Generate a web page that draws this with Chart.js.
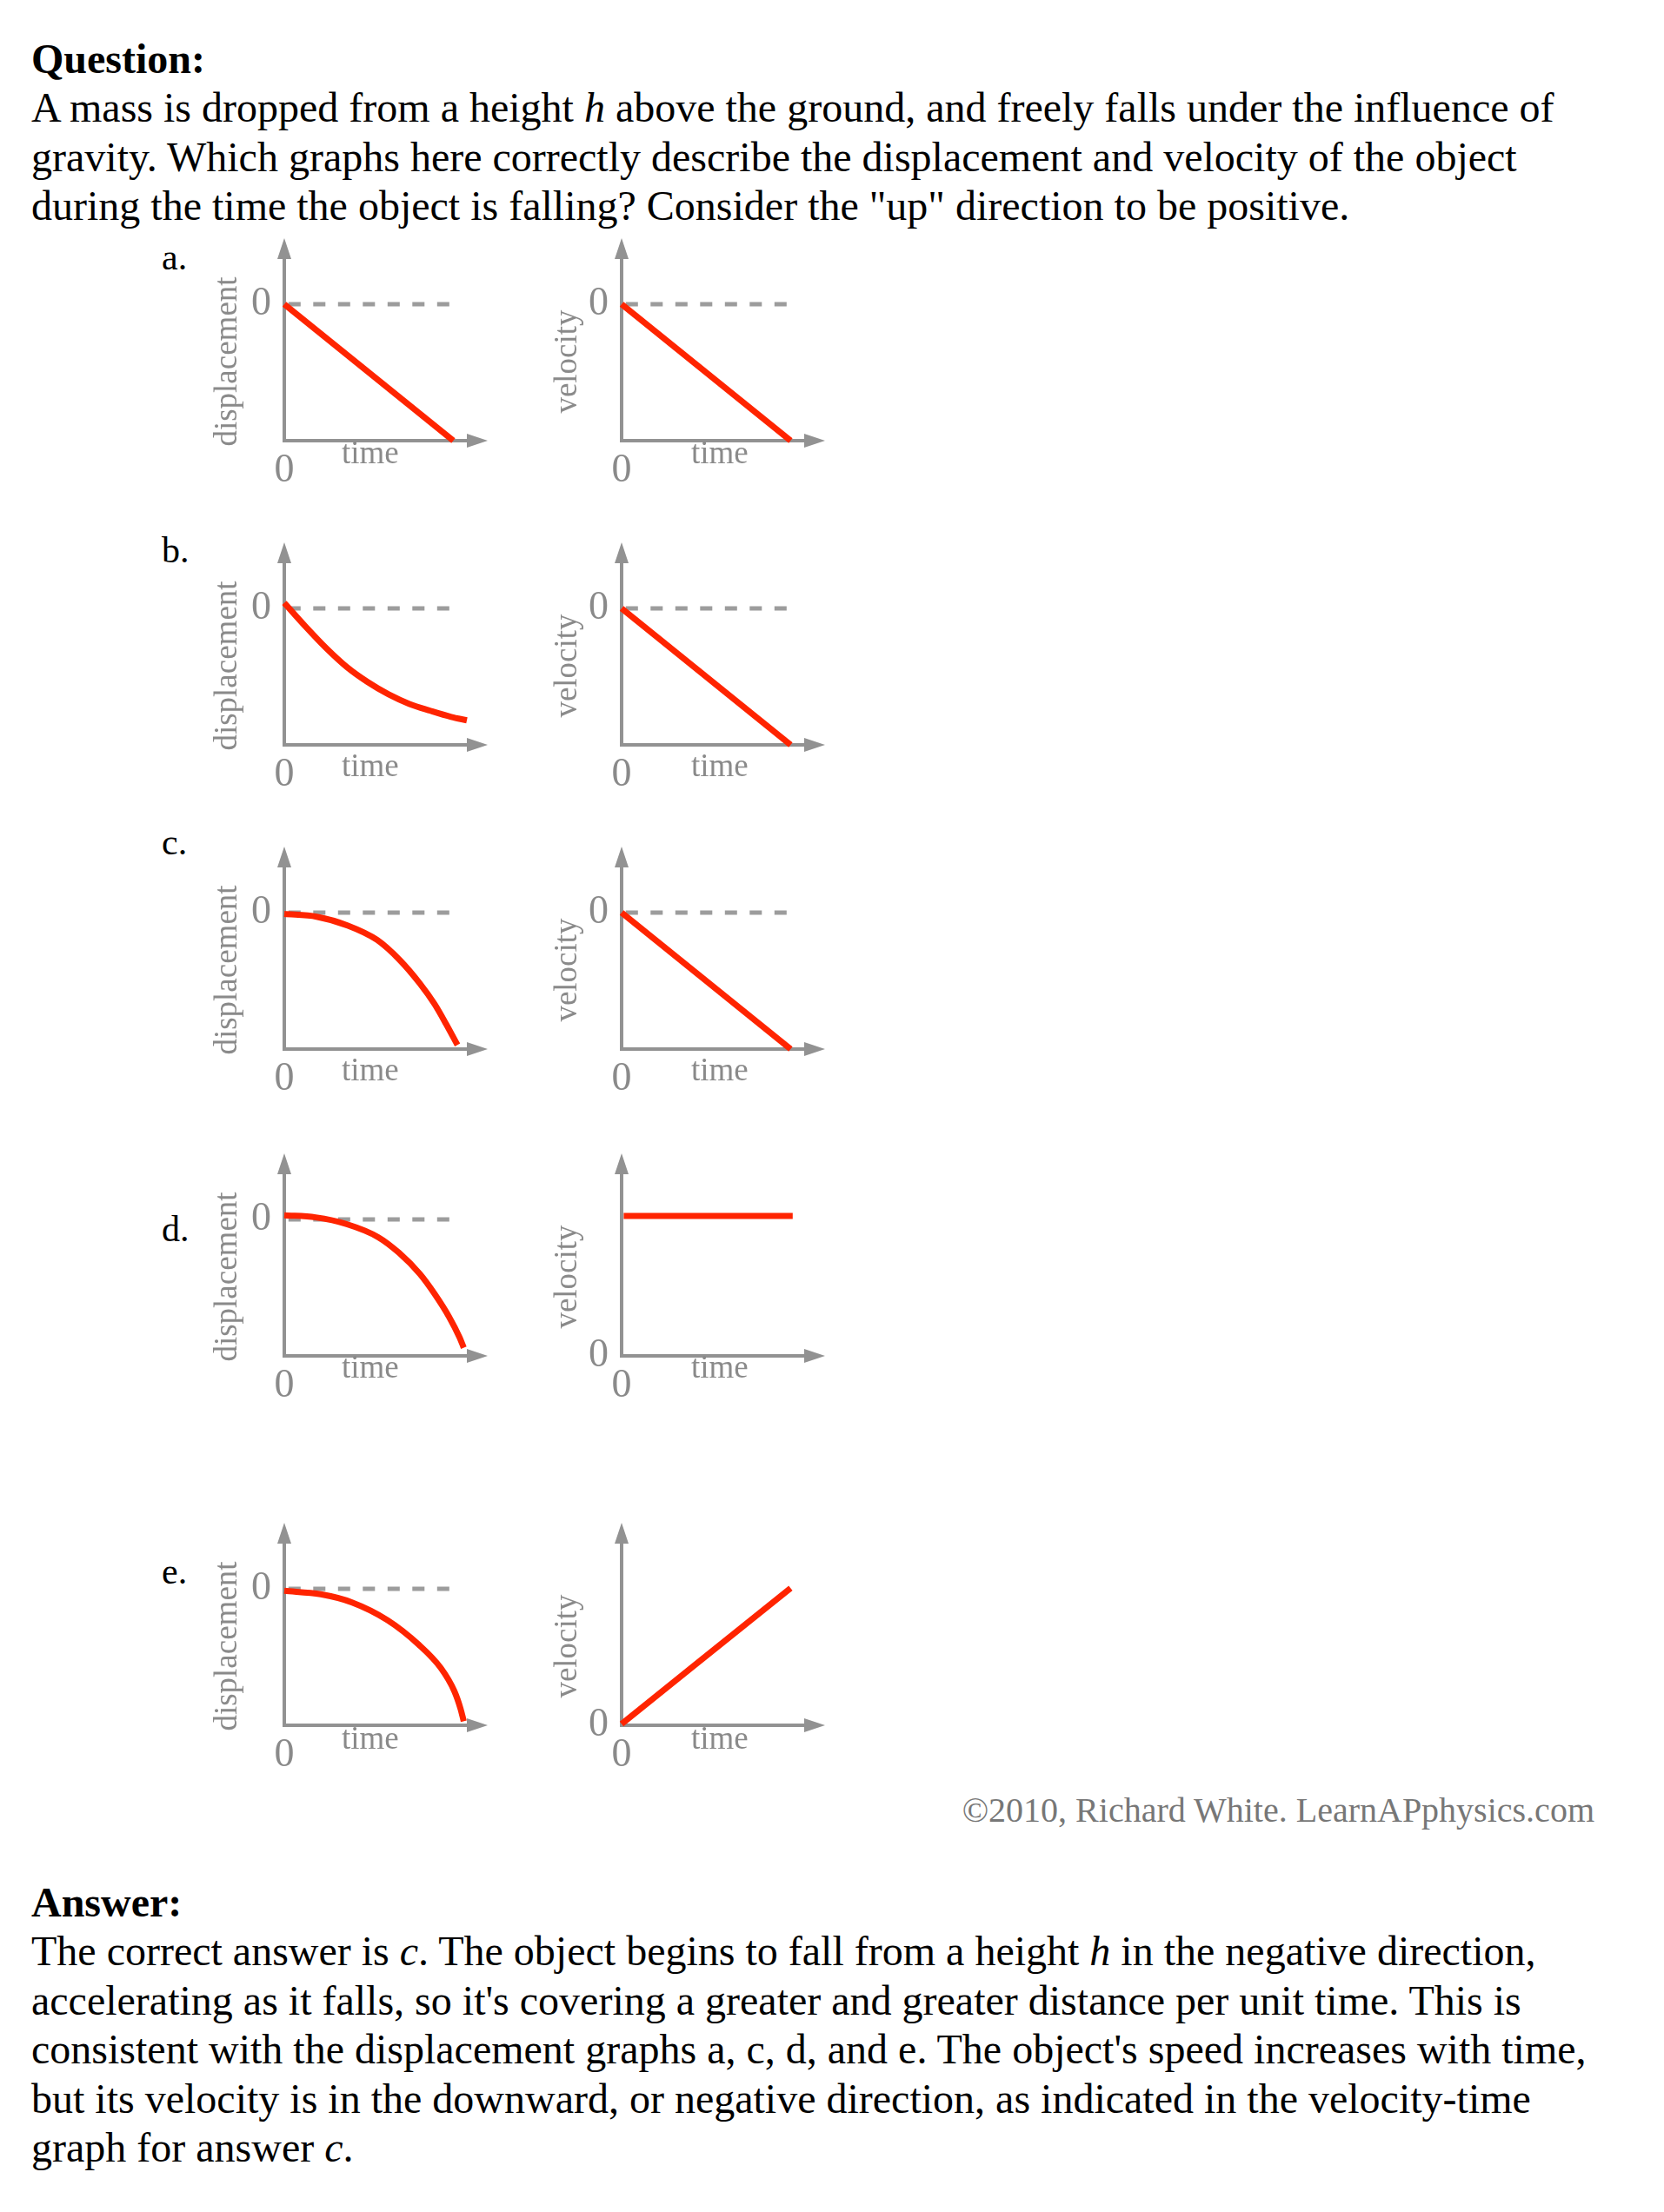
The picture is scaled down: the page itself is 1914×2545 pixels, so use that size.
<!DOCTYPE html>
<html><head><meta charset="utf-8">
<script src="https://cdn.jsdelivr.net/npm/chart.js@4.4.0/dist/chart.umd.min.js"></script>
<style>
html,body{margin:0;padding:0;background:#fff;}
body{width:1914px;height:2545px;position:relative;overflow:hidden;font-family:'Liberation Serif',serif;color:#000;}
.txt{position:absolute;white-space:nowrap;}
#q{left:36px;top:39.5px;font-size:48px;line-height:56.5px;}
#ans{left:36px;top:2161px;font-size:48px;line-height:56.4px;}
.letter{position:absolute;left:186px;font-size:42px;line-height:48px;}
#copy{position:absolute;right:80px;top:2059.5px;font-size:40px;line-height:46px;color:#777;white-space:nowrap;}
canvas{position:absolute;}
</style></head>
<body>
<div id="q" class="txt"><b>Question:</b><br>A mass is dropped from a height <i>h</i> above the ground, and freely falls under the influence of<br>gravity. Which graphs here correctly describe the displacement and velocity of the object<br>during the time the object is falling? Consider the "up" direction to be positive.</div>
<div id="copy">©2010, Richard White. LearnAPphysics.com</div>
<div id="ans" class="txt"><b>Answer:</b><br>The correct answer is <i>c</i>. The object begins to fall from a height <i>h</i> in the negative direction,<br>accelerating as it falls, so it's covering a greater and greater distance per unit time. This is<br>consistent with the displacement graphs a, c, d, and e. The object's speed increases with time,<br>but its velocity is in the downward, or negative direction, as indicated in the velocity-time<br>graph for answer <i>c</i>.</div>
<script>
// ---------- data ----------
const rowLetters = ['a.', 'b.', 'c.', 'd.', 'e.'];
const displacementLabel = 'displacement';
const velocityLabel = 'velocity';
const timeLabel = 'time';
const tickValues = [0];
const tickLabels = ['0'];

const aDispT = [0, 8.1];
const aDispY = [0, -10];
const aVelT = [0, 8.1];
const aVelY = [0, -10];

const bDispT = [0, 1, 2, 3, 4, 5, 6, 7, 8, 8.75];
const bDispY = [0.4, -1.3, -2.9, -4.3, -5.4, -6.3, -7.0, -7.5, -7.95, -8.2];
const bVelT = [0, 8.1];
const bVelY = [0, -10];

const cDispT = [0, 1.55, 3.05, 4.45, 5.55, 6.5, 7.2, 7.75, 8.3];
const cDispY = [-0.1, -0.3, -0.95, -2.0, -3.5, -5.2, -6.7, -8.15, -9.7];
const cVelT = [0, 8.1];
const cVelY = [0, -10];

const dDispT = [0, 1.5, 3.0, 4.5, 5.5, 6.5, 7.2, 7.9, 8.4, 8.6];
const dDispY = [0.3, 0.15, -0.35, -1.3, -2.45, -4.0, -5.45, -7.15, -8.65, -9.4];
const dVelT = [0.1, 8.2];
const dVelY = [10.25, 10.25];

const eDispT = [0, 1.75, 3.25, 4.95, 6.45, 7.5, 8.15, 8.45, 8.6];
const eDispY = [-0.15, -0.4, -1.0, -2.3, -4.1, -5.8, -7.5, -8.8, -9.7];
const eVelT = [0, 8.1];
const eVelY = [0.1, 10.05];

const refLineT = [0.2, 8.0];
const refLineY = [0, 0];

const signedRange = [-10, 4.84];
const positiveRange = [0, 14.84];
const timeRange = [0, 9.75];

// ---------- layout / style ----------
const RED = '#ff2400';
const AXIS = '#929292';
const TEXT = '#8a8a8a';
const DASH = '#9c9c9c';
const FONT = "'Liberation Serif', serif";
Chart.defaults.font.family = FONT;

const rowAxisY = [507, 857, 1207, 1560, 1985];
const rowLetterBaseline = [310, 647, 983, 1428, 1822];
const rowTimeDy = [26, 36, 36, 25, 27];
const colLeft = [230, 618];
const colTitleDx = [-65, -62];
const colTimeDx = [66, 80];
const CW = 350, CH = 315, PAD_TOP = 12, YW = 97, XH = 70, PAD_R = 19, AREA_H = 233;

rowLetters.forEach((l, i) => {
  const d = document.createElement('div');
  d.className = 'letter';
  d.textContent = l;
  d.style.top = (rowLetterBaseline[i] - 38.2) + 'px';
  document.body.appendChild(d);
});

const specs = [
  {row: 0, col: 0, t: aDispT, y: aDispY, ref: true, range: signedRange},
  {row: 0, col: 1, t: aVelT, y: aVelY, ref: true, range: signedRange},
  {row: 1, col: 0, t: bDispT, y: bDispY, ref: true, range: signedRange},
  {row: 1, col: 1, t: bVelT, y: bVelY, ref: true, range: signedRange},
  {row: 2, col: 0, t: cDispT, y: cDispY, ref: true, range: signedRange},
  {row: 2, col: 1, t: cVelT, y: cVelY, ref: true, range: signedRange},
  {row: 3, col: 0, t: dDispT, y: dDispY, ref: true, range: signedRange},
  {row: 3, col: 1, t: dVelT, y: dVelY, ref: false, range: positiveRange},
  {row: 4, col: 0, t: eDispT, y: eDispY, ref: true, range: signedRange},
  {row: 4, col: 1, t: eVelT, y: eVelY, ref: false, range: positiveRange},
];

const decoPlugin = {
  id: 'deco',
  beforeDatasetsDraw(chart) {
    const {ctx, chartArea: a} = chart;
    ctx.save();
    ctx.strokeStyle = AXIS;
    ctx.fillStyle = AXIS;
    ctx.lineWidth = 4;
    ctx.beginPath();
    ctx.moveTo(a.left, a.bottom + 2); ctx.lineTo(a.left, a.top + 20);
    ctx.moveTo(a.left - 2, a.bottom); ctx.lineTo(a.right - 20, a.bottom);
    ctx.stroke();
    ctx.beginPath();
    ctx.moveTo(a.left, a.top); ctx.lineTo(a.left - 8, a.top + 24); ctx.lineTo(a.left + 8, a.top + 24);
    ctx.closePath(); ctx.fill();
    ctx.beginPath();
    ctx.moveTo(a.right, a.bottom); ctx.lineTo(a.right - 24, a.bottom - 8); ctx.lineTo(a.right - 24, a.bottom + 8);
    ctx.closePath(); ctx.fill();
    ctx.restore();
  },
  afterDraw(chart, args, o) {
    const {ctx, chartArea: a} = chart;
    ctx.save();
    ctx.fillStyle = TEXT;
    ctx.font = "37px " + FONT;
    ctx.textBaseline = 'alphabetic';
    ctx.textAlign = 'left';
    ctx.fillText(o.timeText, a.left + o.timeDx, a.bottom + o.timeDy);
    ctx.translate(a.left + o.titleDx, a.bottom - 91);
    ctx.rotate(-Math.PI / 2);
    ctx.textAlign = 'center';
    ctx.textBaseline = 'middle';
    ctx.fillText(o.title, 0, 0);
    ctx.restore();
  }
};

specs.forEach(s => {
  const cv = document.createElement('canvas');
  cv.width = CW; cv.height = CH;
  cv.style.left = colLeft[s.col] + 'px';
  cv.style.top = (rowAxisY[s.row] - AREA_H - PAD_TOP) + 'px';
  document.body.appendChild(cv);
  const datasets = [];
  if (s.ref) {
    datasets.push({
      data: refLineT.map((t, i) => ({x: t, y: refLineY[i]})),
      borderColor: DASH, borderWidth: 5, borderDash: [14, 14.5],
      pointRadius: 0, order: 2, clip: false
    });
  }
  datasets.push({
    data: s.t.map((t, i) => ({x: t, y: s.y[i]})),
    borderColor: RED, borderWidth: 7, pointRadius: 0,
    cubicInterpolationMode: 'monotone', order: 1, clip: false
  });
  new Chart(cv, {
    type: 'line',
    data: {datasets},
    plugins: [decoPlugin],
    options: {
      responsive: false, animation: false, events: [],
      layout: {padding: {top: PAD_TOP, right: PAD_R, left: 0, bottom: 0}},
      plugins: {
        legend: {display: false}, tooltip: {enabled: false},
        deco: {
          title: s.col === 0 ? displacementLabel : velocityLabel,
          titleDx: colTitleDx[s.col], timeText: timeLabel,
          timeDx: colTimeDx[s.col], timeDy: rowTimeDy[s.row]
        }
      },
      scales: {
        x: {
          type: 'linear', min: timeRange[0], max: timeRange[1],
          afterBuildTicks: sc => { sc.ticks = tickValues.map(v => ({value: v})); },
          afterFit: sc => { sc.height = XH; sc.paddingLeft = 0; sc.paddingRight = 0; },
          ticks: {callback: (v, i) => tickLabels[i], padding: 7, maxRotation: 0, autoSkip: false,
                  font: {size: 46}, color: TEXT},
          grid: {display: false, drawTicks: false}, border: {display: false}
        },
        y: {
          type: 'linear', min: s.range[0], max: s.range[1],
          afterBuildTicks: sc => { sc.ticks = tickValues.map(v => ({value: v})); },
          afterFit: sc => { sc.width = YW; sc.paddingTop = 0; sc.paddingBottom = 0; },
          ticks: {callback: (v, i) => tickLabels[i], padding: 15, autoSkip: false,
                  font: {size: 46}, color: TEXT},
          grid: {display: false, drawTicks: false}, border: {display: false}
        }
      }
    }
  });
});
</script>
</body></html>
